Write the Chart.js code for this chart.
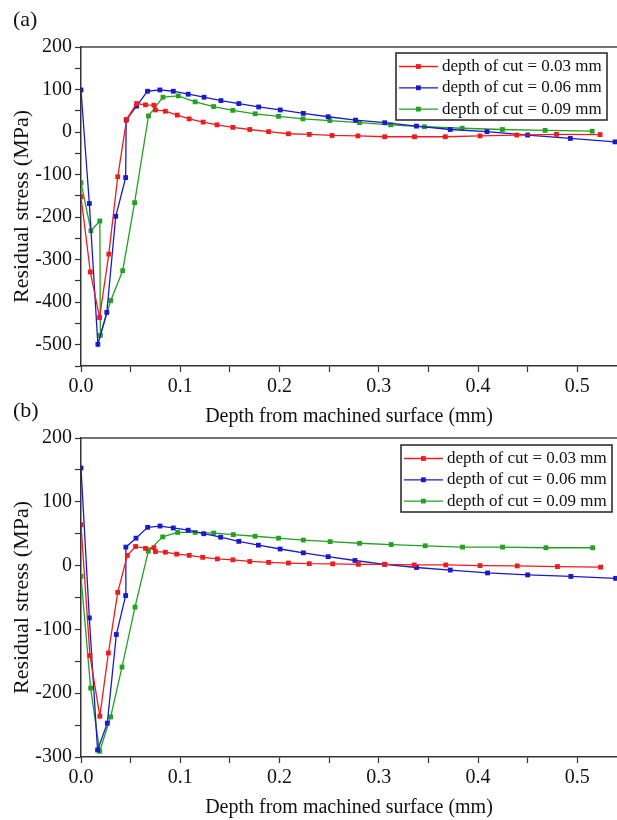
<!DOCTYPE html>
<html>
<head>
<meta charset="utf-8">
<script src="https://cdn.jsdelivr.net/npm/chart.js@4"></script>
<style>
  body { margin: 0; background: #fff; }
  #wrap { position: relative; width: 617px; height: 820px; overflow: hidden; }
  canvas { position: absolute; left: 0; }
  .tag { position: absolute; left: 13px; font: 22px "Liberation Serif", serif; color: #111; }
</style>
</head>
<body>
<div id="wrap">
  <canvas id="chartA" width="617" height="440" style="top:0"></canvas>
  <canvas id="chartB" width="617" height="400" style="top:420px"></canvas>
  <div class="tag" style="top:6px">(a)</div>
  <div class="tag" style="top:397px">(b)</div>
</div>
<script>
// legend labels
const cutLabels = ["depth of cut = 0.03 mm", "depth of cut = 0.06 mm", "depth of cut = 0.09 mm"];
const lineColors = ["#ee1c1c", "#1a1acb", "#22a122"];

// (a) depth (mm) and residual stress (MPa)
const depthA1 = [0, 0.0094, 0.0187, 0.028, 0.037, 0.046, 0.056, 0.065, 0.0735, 0.075, 0.085, 0.097, 0.109, 0.123, 0.137, 0.153, 0.170, 0.189, 0.209, 0.230, 0.253, 0.279, 0.306, 0.336, 0.367, 0.402, 0.439, 0.479, 0.523];
const stressA1 = [-152, -329, -436, -287, -105, 30, 67, 64, 63, 52, 49, 40, 31, 23.5, 17, 11, 6, 1, -4, -5.5, -8, -9, -11, -11, -11, -9, -7, -5.5, -6];
const depthA2 = [0, 0.0084, 0.017, 0.026, 0.035, 0.045, 0.0455, 0.056, 0.067, 0.0795, 0.093, 0.108, 0.124, 0.141, 0.159, 0.179, 0.2007, 0.224, 0.249, 0.2766, 0.306, 0.338, 0.372, 0.409, 0.450, 0.493, 0.538];
const stressA2 = [99, -168, -499, -424, -198, -107, 28, 61, 96, 99, 96, 89, 82, 74, 67, 59, 52, 44, 36, 28, 22, 14, 6, 1, -7, -15, -23];
const depthA3 = [0, 0.010, 0.019, 0.0195, 0.030, 0.042, 0.054, 0.068, 0.0826, 0.098, 0.115, 0.1336, 0.153, 0.1755, 0.199, 0.2236, 0.2507, 0.2806, 0.312, 0.346, 0.384, 0.4246, 0.4676, 0.515];
const stressA3 = [-119, -232, -209, -478, -396, -326, -166, 38, 82, 85, 71, 60, 51, 43, 37, 31, 27, 22, 17, 12.5, 9, 6, 4, 2];

// (b)
const depthB1 = [0, 0.009, 0.019, 0.0276, 0.037, 0.0467, 0.055, 0.065, 0.0735, 0.075, 0.085, 0.0964, 0.109, 0.1226, 0.1374, 0.153, 0.170, 0.189, 0.209, 0.230, 0.2536, 0.2795, 0.306, 0.3357, 0.3675, 0.402, 0.4395, 0.48, 0.5235];
const stressB1 = [64, -141, -236, -137, -42, 16, 30, 27, 28, 22, 21, 18, 16, 13, 10.5, 9, 6.5, 5, 4, 3, 2.7, 2, 2, 1, 1, 0, -0.5, -1.5, -2.5];
const depthB2 = [0, 0.0084, 0.0167, 0.0265, 0.0356, 0.045, 0.0452, 0.0554, 0.0671, 0.0796, 0.093, 0.108, 0.1236, 0.1407, 0.159, 0.1787, 0.2006, 0.224, 0.249, 0.276, 0.306, 0.338, 0.372, 0.4096, 0.45, 0.4935, 0.5386];
const stressB2 = [153, -82, -289, -247, -108, -47, 29, 43, 60, 62, 59, 55.5, 50, 44.5, 38, 32, 26, 20, 14, 8, 2, -3, -7, -11.5, -14.6, -17, -20];
const depthB3 = [0, 0.0097, 0.0188, 0.0299, 0.0413, 0.0544, 0.0678, 0.0823, 0.0974, 0.115, 0.1337, 0.1535, 0.1754, 0.199, 0.224, 0.251, 0.2806, 0.3125, 0.3468, 0.3844, 0.4247, 0.4684, 0.5155];
const stressB3 = [-17, -192, -291, -237, -159, -65, 22.5, 45, 52, 52, 51, 48.6, 46, 43, 40, 37.6, 35, 33, 31, 29, 29, 28, 28];

Chart.defaults.font.family = '"Liberation Serif", "Times New Roman", serif';
Chart.defaults.color = "#111";

function pairs(xs, ys) {
  return xs.map((x, i) => ({ x: x, y: ys[i] }));
}

function makeSets(series) {
  return series.map((s, i) => ({
    label: cutLabels[i],
    data: pairs(s[0], s[1]),
    borderColor: lineColors[i],
    backgroundColor: lineColors[i],
    borderWidth: 1.3,
    pointStyle: "rect",
    pointRadius: 3.4,
    pointBorderWidth: 0,
    tension: 0
  }));
}

// top frame line + boxed legend with line/marker samples
const boxLegend = {
  id: "boxLegend",
  afterDraw(chart, args, opts) {
    const { ctx, chartArea } = chart;
    ctx.save();
    ctx.strokeStyle = "#444";
    ctx.lineWidth = 1.5;
    ctx.beginPath();
    ctx.moveTo(chartArea.left, chartArea.top);
    ctx.lineTo(chartArea.right, chartArea.top);
    ctx.stroke();

    const w = 211, h = 67;
    const x0 = chartArea.right - opts.right - w;
    const y0 = chartArea.top + opts.top;
    ctx.fillStyle = "#fff";
    ctx.fillRect(x0, y0, w, h);
    ctx.strokeStyle = "#222";
    ctx.lineWidth = 1.5;
    ctx.strokeRect(x0, y0, w, h);

    ctx.font = '17px "Liberation Serif", serif';
    ctx.textBaseline = "middle";
    chart.data.datasets.forEach((ds, i) => {
      const y = y0 + 13.5 + i * 21.3;
      ctx.strokeStyle = ds.borderColor;
      ctx.lineWidth = 1.3;
      ctx.beginPath();
      ctx.moveTo(x0 + 3, y);
      ctx.lineTo(x0 + 42, y);
      ctx.stroke();
      ctx.fillStyle = ds.borderColor;
      ctx.fillRect(x0 + 20, y - 2.4, 4.8, 4.8);
      ctx.fillStyle = "#111";
      ctx.fillText(ds.label, x0 + 46, y);
    });
    ctx.restore();
  }
};

function makeChart(id, series, yMin, yMax, padTop, axisH, titlePad, legendPos) {
  return new Chart(document.getElementById(id), {
    type: "line",
    data: { datasets: makeSets(series) },
    plugins: [boxLegend],
    options: {
      responsive: false,
      animation: false,
      devicePixelRatio: 1,
      layout: { autoPadding: false, padding: { top: padTop, right: 0, bottom: 0, left: 0 } },
      plugins: {
        legend: { display: false },
        tooltip: { enabled: false },
        boxLegend: legendPos
      },
      scales: {
        x: {
          type: "linear",
          min: 0,
          max: 0.54,
          grid: { drawOnChartArea: false, tickLength: 6, color: "#333", tickWidth: 1.2 },
          border: { color: "#333", width: 1.5 },
          ticks: {
            stepSize: 0.05,
            includeBounds: false,
            autoSkip: false,
            maxRotation: 0,
            padding: 3,
            font: { size: 20 },
            callback: v => (Math.round(v * 100) % 10 === 0 ? v.toFixed(1) : "")
          },
          title: {
            display: true,
            text: "Depth from machined surface (mm)",
            font: { size: 20 },
            padding: { top: 0, bottom: titlePad }
          },
          afterFit: s => { s.height = axisH; }
        },
        y: {
          min: yMin,
          max: yMax,
          grid: { drawOnChartArea: false, tickLength: 6, color: "#333", tickWidth: 1.2 },
          border: { color: "#333", width: 1.5 },
          ticks: {
            stepSize: 50,
            autoSkip: false,
            padding: 3,
            font: { size: 20 },
            callback: v => (Math.round(v) % 100 === 0 ? v : "")
          },
          title: {
            display: true,
            text: "Residual stress (MPa)",
            font: { size: 22 },
            padding: { top: 9, bottom: 0 }
          },
          afterFit: s => { s.width = 81; }
        }
      }
    }
  });
}

makeChart("chartA",
  [[depthA1, stressA1], [depthA2, stressA2], [depthA3, stressA3]],
  -550, 200, 47, 74, 11, { right: 10, top: 6 });

makeChart("chartB",
  [[depthB1, stressB1], [depthB2, stressB2], [depthB3, stressB3]],
  -300, 200, 18, 63, 0, { right: 5, top: 7 });
</script>
</body>
</html>
